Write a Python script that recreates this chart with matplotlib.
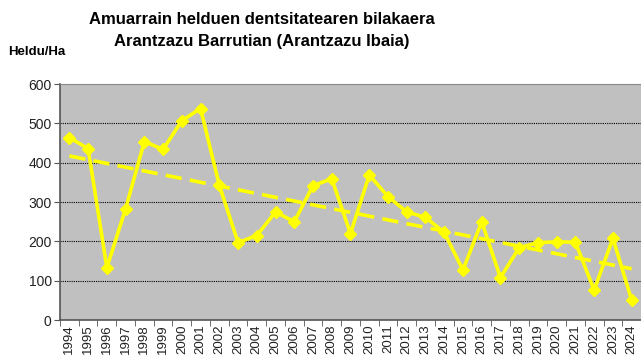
import numpy as np
import matplotlib.pyplot as plt

years = list(range(1994, 2025))
density = [464, 436, 133, 283, 454, 434, 507, 538, 343, 197, 215, 275, 250, 342,
           359, 220, 369, 314, 275, 261, 223, 127, 250, 108, 184, 197, 199, 198,
           76, 208, 51]

plt.rcParams['font.family'] = ['Liberation Sans', 'DejaVu Sans']

fig = plt.figure(figsize=(6.41, 3.58), dpi=100)
ax = fig.add_axes([0.0936, 0.106, 0.9064, 0.659])
ax.set_facecolor('#C0C0C0')

x = np.arange(len(years))
ax.plot(x, density, color='#FFFF00', lw=2.6, marker='D', ms=6.5, zorder=3)

# linear trend
coef = np.polyfit(x, density, 1)
ax.plot(x, np.polyval(coef, x), color='#FFFF00', lw=2.6, ls=(0, (4.5, 2.3)), zorder=2)

ax.set_xlim(-0.5, len(years) - 0.5)
ax.set_ylim(0, 600)
ax.set_yticks(range(0, 601, 100))
ax.set_yticklabels([str(v) for v in range(0, 601, 100)], fontsize=10, color='#222222')
ax.set_xticks(x)
ax.set_xticklabels([str(y) for y in years], rotation=90, fontsize=9.5, color='#222222')
ax.set_xticks(np.arange(-0.5, len(years), 1), minor=True)
ax.tick_params(axis='x', which='major', length=0, pad=3)
ax.tick_params(axis='x', which='minor', length=4, color='#555555')
ax.tick_params(axis='y', length=4, color='#555555', pad=2)

for v in range(100, 600, 100):
    ax.axhline(v, color='#000000', lw=0.8, ls=(0, (1, 1)), zorder=1)

for side in ['left', 'bottom']:
    ax.spines[side].set_color('#555555')
    ax.spines[side].set_linewidth(1.2)
ax.spines['top'].set_color('#888888')
ax.spines['right'].set_visible(False)

fig.text(0.408, 0.945, 'Amuarrain helduen dentsitatearen bilakaera',
         ha='center', va='center', fontsize=12, fontweight='bold')
fig.text(0.408, 0.883, 'Arantzazu Barrutian (Arantzazu Ibaia)',
         ha='center', va='center', fontsize=12, fontweight='bold')
fig.text(0.012, 0.855, 'Heldu/Ha', ha='left', va='center', fontsize=9.5, fontweight='bold')

fig.savefig('out.png', dpi=100)
